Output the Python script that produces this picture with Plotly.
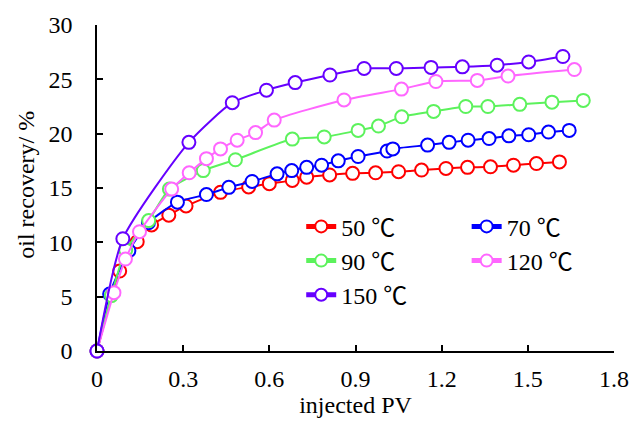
import plotly.graph_objects as go

# injected pore volume (PV) and oil recovery (%) at each temperature
pv_50 = [0, 0.079, 0.14, 0.19, 0.25, 0.31, 0.43, 0.528, 0.60, 0.68, 0.73, 0.81, 0.89,
         0.97, 1.05, 1.13, 1.215, 1.29, 1.37, 1.45, 1.53, 1.61]
rec_50 = [0, 7.36, 10.06, 11.6, 12.5, 13.35, 14.6, 15.1, 15.4, 15.7, 16.0, 16.2, 16.35,
          16.4, 16.5, 16.65, 16.8, 16.9, 16.95, 17.1, 17.25, 17.4]

pv_70 = [0, 0.044, 0.111, 0.179, 0.28, 0.381, 0.459, 0.54, 0.627, 0.678, 0.73, 0.782,
         0.84, 0.909, 1.01, 1.03, 1.151, 1.226, 1.292, 1.365, 1.434, 1.503, 1.572, 1.644]
rec_70 = [0, 5.24, 9.23, 11.8, 13.7, 14.4, 15.06, 15.6, 16.3, 16.6, 16.9, 17.1,
          17.5, 17.9, 18.4, 18.6, 18.95, 19.2, 19.4, 19.55, 19.8, 19.9, 20.15, 20.3]

pv_90 = [0, 0.05, 0.10, 0.18, 0.252, 0.37, 0.482, 0.68, 0.791, 0.909, 0.98, 1.061,
         1.172, 1.284, 1.361, 1.472, 1.584, 1.693]
rec_90 = [0, 5.1, 9.3, 12.0, 14.9, 16.6, 17.6, 19.5, 19.7, 20.3, 20.7, 21.55,
          22.05, 22.5, 22.5, 22.7, 22.9, 23.06]

pv_120 = [0, 0.059, 0.099, 0.148, 0.26, 0.321, 0.381, 0.43, 0.488, 0.552, 0.617, 0.86,
          1.06, 1.18, 1.324, 1.431, 1.662]
rec_120 = [0, 5.37, 8.46, 10.98, 14.9, 16.4, 17.7, 18.6, 19.4, 20.1, 21.25, 23.1,
           24.1, 24.8, 24.9, 25.3, 25.9]

pv_150 = [0, 0.09, 0.32, 0.471, 0.59, 0.69, 0.811, 0.93, 1.042, 1.163, 1.272, 1.393,
          1.503, 1.622]
rec_150 = [0, 10.33, 19.2, 22.85, 24.0, 24.7, 25.4, 26.0, 26.0, 26.1, 26.15, 26.3,
           26.6, 27.1]

temperatures = ["50", "70", "90", "120", "150"]

x_ticks = [0, 0.3, 0.6, 0.9, 1.2, 1.5, 1.8]
x_tick_text = ["0", "0.3", "0.6", "0.9", "1.2", "1.5", "1.8"]
y_ticks = [0, 5, 10, 15, 20, 25, 30]

FONT = "Liberation Serif, Times New Roman, serif"
CJK = "Noto Sans CJK SC"
SIZE = 24


def label(t):
    return f"{t} <span style='font-family:{CJK}'>℃</span>"


series = [
    (temperatures[0], pv_50, rec_50, "#FF0000", "legend"),
    (temperatures[1], pv_70, rec_70, "#0000FF", "legend2"),
    (temperatures[2], pv_90, rec_90, "#5CF25C", "legend"),
    (temperatures[3], pv_120, rec_120, "#FF66FF", "legend2"),
    (temperatures[4], pv_150, rec_150, "#6600FF", "legend"),
]

fig = go.Figure()
for t, xs, ys, color, leg in series:
    fig.add_trace(go.Scatter(
        x=xs, y=ys, name=label(t), mode="lines+markers",
        legendgroup=t,
        line=dict(color=color, width=2, shape="spline", smoothing=0.6),
        marker=dict(symbol="circle", size=13, color="white",
                    line=dict(color=color, width=2)),
        legend=leg, cliponaxis=False,
    ))

legend_style = dict(
    font=dict(family=FONT, size=SIZE, color="black"),
    bgcolor="rgba(0,0,0,0)", borderwidth=0,
    orientation="v", xanchor="left", yanchor="top",
    tracegroupgap=0, itemsizing="constant",
)

fig.update_layout(
    width=641, height=428,
    margin=dict(l=97, r=25, t=25, b=77),
    paper_bgcolor="white", plot_bgcolor="white",
    font=dict(family=FONT, size=SIZE, color="black"),
    legend=dict(x=0.395, y=0.45, **legend_style),
    legend2=dict(x=0.715, y=0.45, **legend_style),
    xaxis=dict(
        range=[0, 1.8], tickvals=x_ticks, ticktext=x_tick_text,
        ticks="inside", ticklen=6, tickwidth=1.5, tickcolor="black",
        showline=True, linecolor="black", linewidth=1.5,
        showgrid=False, zeroline=False, ticklabelstandoff=5,
        tickfont=dict(family=FONT, size=SIZE),
        title=dict(text="injected PV", standoff=6,
                   font=dict(family=FONT, size=SIZE)),
    ),
    yaxis=dict(
        range=[0, 30], tickvals=y_ticks,
        ticks="inside", ticklen=6, tickwidth=1.5, tickcolor="black",
        showline=True, linecolor="black", linewidth=1.5,
        showgrid=False, zeroline=False, ticklabelstandoff=18,
        tickfont=dict(family=FONT, size=SIZE),
    ),
    annotations=[dict(
        text="oil recovery/ %", textangle=-90,
        xref="paper", yref="paper", x=0, y=0.51,
        xanchor="center", yanchor="middle", xshift=-71,
        showarrow=False, font=dict(family=FONT, size=SIZE, color="black"),
    )],
)

fig.write_html("out.html")
